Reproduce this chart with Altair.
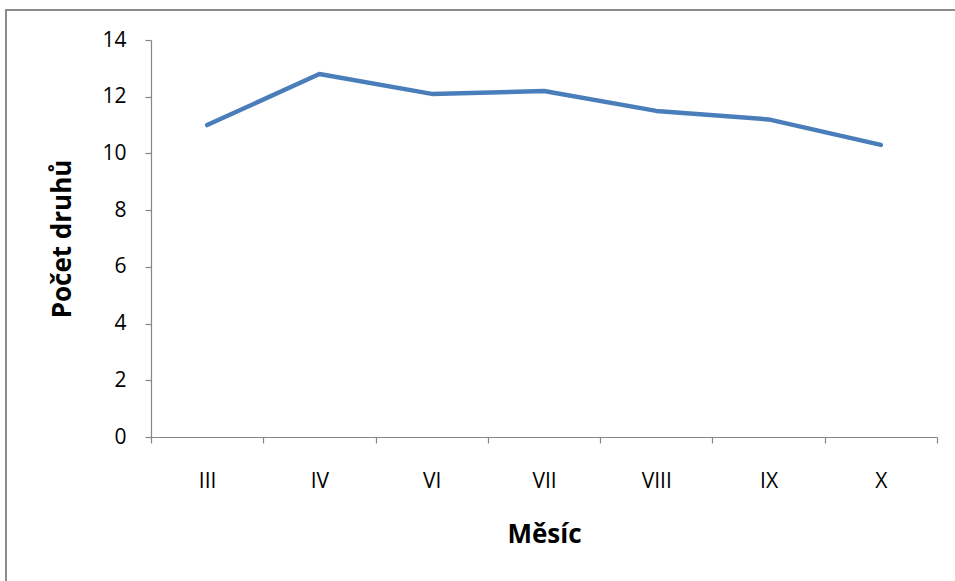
import altair as alt
import pandas as pd

# Monthly mean number of species
months = ["III", "IV", "VI", "VII", "VIII", "IX", "X"]
species_count = [11.0, 12.8, 12.1, 12.2, 11.5, 11.2, 10.3]

df = pd.DataFrame({"month": months, "count": species_count})

FONT = "Open Sans"
AXIS_GRAY = "#868686"

line = alt.Chart(df).mark_line(color="#4a7ebb", strokeWidth=4.5, strokeCap="round", strokeJoin="round").encode(
    x=alt.X(
        "month:N",
        sort=months,
        scale=alt.Scale(paddingInner=0, paddingOuter=0),
        axis=alt.Axis(
            title="Měsíc",
            labelAngle=0,
            tickBand="extent",
            tickSize=6,
            labelPadding=27,
            titlePadding=30,
        ),
    ),
    y=alt.Y(
        "count:Q",
        scale=alt.Scale(domain=[0, 14], nice=False),
        axis=alt.Axis(
            title="Počet druhů",
            values=list(range(0, 15, 2)),
            tickSize=6,
            labelPadding=19,
            titlePadding=26,
            grid=False,
        ),
    ),
)

# outer chart frame
frame = alt.Chart(alt.Data(values=[{}])).mark_rect(
    fill=None, stroke="#8c8c8c", strokeWidth=2
).encode(
    x=alt.value(-145),
    y=alt.value(-30),
    x2=alt.value(900),
    y2=alt.value(700),
)

chart = (
    alt.layer(frame, line)
    .properties(
        width=786,
        height=397,
        background="white",
        autosize=alt.AutoSizeParams(type="none"),
        padding={"left": 151, "top": 40, "right": 18, "bottom": 144},
    )
    .configure_view(stroke=None)
    .configure_axis(
        domainColor=AXIS_GRAY,
        tickColor=AXIS_GRAY,
        domainWidth=1.2,
        tickWidth=1.2,
        labelFont=FONT,
        labelFontSize=21,
        labelColor="#000000",
        titleFont=FONT,
        titleFontSize=26,
        titleFontWeight="bold",
        titleColor="#000000",
        grid=False,
    )
)

chart.save("out.html", embed_options={"renderer": "svg", "actions": False})
